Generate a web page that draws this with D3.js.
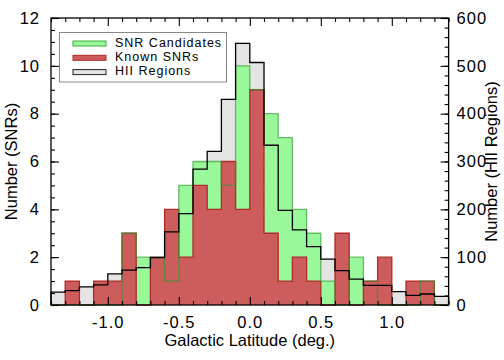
<!DOCTYPE html>
<html>
<head>
<meta charset="utf-8">
<script src="https://cdn.jsdelivr.net/npm/d3@7"></script>
<style>
  body { margin: 0; background: #fff; }
  text { font-family: "Liberation Sans", Arial, sans-serif; fill: #000; }
</style>
</head>
<body>
<script>
// left edge of each 0.1 deg latitude bin
var binLeft = [-1.4, -1.3, -1.2, -1.1, -1.0, -0.9, -0.8, -0.7, -0.6, -0.5,
               -0.4, -0.3, -0.2, -0.1, 0.0, 0.1, 0.2, 0.3, 0.4, 0.5,
               0.6, 0.7, 0.8, 0.9, 1.0, 1.1, 1.2, 1.3];
var binEnd = 1.4;

var candidates = [0, 0, 0, 0, 0, 3, 2, 2, 1, 5, 6, 6, 5, 10, 9, 8, 7, 4, 3, 1, 0, 2, 1, 0, 0, 0, 1, 0];
var known      = [0, 1, 0, 1, 1, 3, 0, 2, 4, 2, 5, 4, 6, 4, 9, 3, 1, 2, 1, 0, 3, 0, 1, 2, 0, 1, 1, 0];
var hii        = [27, 30, 38, 42, 65, 73, 78, 99, 153, 191, 284, 321, 430, 547, 507, 334,
                  198, 157, 122, 96, 72, 54, 41, 41, 28, 20, 23, 18];

var xMajor = [-1.0, -0.5, 0.0, 0.5, 1.0];
var yLeftTicks = [0, 2, 4, 6, 8, 10, 12];
var yRightTicks = [0, 100, 200, 300, 400, 500, 600];

var legendNames = ["SNR Candidates", "Known SNRs", "HII Regions"];

var width = 504, height = 360;
var plot = {left: 51, right: 448.6, top: 18, bottom: 305};

var svg = d3.select("body").append("svg")
            .attr("width", width)
            .attr("height", height);

var x = d3.scaleLinear().domain([-1.4, binEnd]).range([plot.left, plot.right]);
var yL = d3.scaleLinear().domain([0, 12]).range([plot.bottom, plot.top]);
var yR = d3.scaleLinear().domain([0, 600]).range([plot.bottom, plot.top]);

// turn a list of counts into step points (starting and ending on zero)
function steps(vals) {
  var pts = [{x: binLeft[0], v: 0}];
  vals.forEach(function(v, i) { pts.push({x: binLeft[i], v: v}); });
  pts.push({x: binEnd, v: vals[vals.length - 1]});
  pts.push({x: binEnd, v: 0});
  return pts;
}

function area(scale) {
  return d3.area().curve(d3.curveStepAfter)
           .x(function(d) { return x(d.x); })
           .y0(scale(0))
           .y1(function(d) { return scale(d.v); });
}
function line(scale) {
  return d3.line().curve(d3.curveStepAfter)
           .x(function(d) { return x(d.x); })
           .y(function(d) { return scale(d.v); });
}

var hiiPts = steps(hii), candPts = steps(candidates), knownPts = steps(known);

// fills
svg.append("path").attr("d", area(yR)(hiiPts)).style("fill", "#e4e4e4");
svg.append("path").attr("d", area(yL)(candPts)).style("fill", "#99f899");
svg.append("path").attr("d", area(yL)(knownPts)).style("fill", "#cd5c5c");

// outlines
svg.append("path").attr("d", line(yL)(knownPts))
   .style("fill", "none").style("stroke", "#b02a2a").style("stroke-width", 1.3);
svg.append("path").attr("d", line(yL)(candPts))
   .style("fill", "none").style("stroke", "#2f9a2f").style("stroke-width", 1.3)
   .style("stroke-opacity", 0.65);
svg.append("path").attr("d", line(yR)(hiiPts))
   .style("fill", "none").style("stroke", "#000").style("stroke-width", 1.3);

// frame
svg.append("rect")
   .attr("x", plot.left).attr("y", plot.top)
   .attr("width", plot.right - plot.left).attr("height", plot.bottom - plot.top)
   .style("fill", "none").style("stroke", "#000").style("stroke-width", 1.3);

// ticks (all pointing inward)
var xMinor = binLeft.concat([binEnd]).filter(function(d) {
  return xMajor.every(function(m) { return Math.abs(m - d) > 1e-6; });
});
var yLMinor = d3.range(0, 12.01, 0.5);
var yRMinor = d3.range(0, 600.1, 20);

function tickAxis(axis, translate) {
  var g = svg.append("g").attr("transform", translate).call(axis);
  g.select(".domain").remove();
  g.selectAll("line").style("stroke", "#000").style("stroke-width", 1.1);
  return g;
}

tickAxis(d3.axisBottom(x).tickValues(xMinor).tickSize(-4).tickFormat(""), "translate(0," + plot.bottom + ")");
tickAxis(d3.axisTop(x).tickValues(xMinor).tickSize(-4).tickFormat(""), "translate(0," + plot.top + ")");
tickAxis(d3.axisTop(x).tickValues(xMajor).tickSize(-8).tickFormat(""), "translate(0," + plot.top + ")");
tickAxis(d3.axisLeft(yL).tickValues(yLMinor).tickSize(-4).tickFormat(""), "translate(" + plot.left + ",0)");
tickAxis(d3.axisRight(yR).tickValues(yRMinor).tickSize(-4).tickFormat(""), "translate(" + plot.right + ",0)");

var xAxis = tickAxis(d3.axisBottom(x).tickValues(xMajor).tickSize(-8).tickPadding(11)
                       .tickFormat(function(d) { return d.toFixed(1); }),
                     "translate(0," + plot.bottom + ")");
var yAxisL = tickAxis(d3.axisLeft(yL).tickValues(yLeftTicks).tickSize(-8).tickPadding(11)
                        .tickFormat(d3.format("d")),
                      "translate(" + plot.left + ",0)");
var yAxisR = tickAxis(d3.axisRight(yR).tickValues(yRightTicks).tickSize(-8).tickPadding(8)
                        .tickFormat(d3.format("d")),
                      "translate(" + plot.right + ",0)");

[xAxis, yAxisL, yAxisR].forEach(function(g) {
  g.selectAll("text")
   .style("font-family", '"Liberation Sans", Arial, sans-serif')
   .style("font-size", "16.5px")
   .style("letter-spacing", "1px")
   .style("fill", "#000");
});

// axis titles
svg.append("text")
   .attr("x", (plot.left + plot.right) / 2)
   .attr("y", 346)
   .attr("text-anchor", "middle")
   .style("font-size", "16.5px")
   .text("Galactic Latitude (deg.)");

svg.append("text")
   .attr("transform", "translate(17," + (plot.top + plot.bottom) / 2 + ") rotate(-90)")
   .attr("text-anchor", "middle")
   .style("font-size", "16.5px")
   .text("Number (SNRs)");

svg.append("text")
   .attr("transform", "translate(497," + (plot.top + plot.bottom) / 2 + ") rotate(-90)")
   .attr("text-anchor", "middle")
   .style("font-size", "16.5px")
   .text("Number (HII Regions)");

// legend
var legendFill = ["#99f899", "#cd5c5c", "#e4e4e4"];
var legendStroke = ["#3fae3f", "#b02a2a", "#222"];

svg.append("rect")
   .attr("x", 59.5).attr("y", 32.5)
   .attr("width", 167).attr("height", 49.5)
   .style("fill", "#fff").style("stroke", "#888").style("stroke-width", 1);

var legend = svg.selectAll(".legend")
                .data(legendNames)
                .enter().append("g")
                .attr("class", "legend")
                .attr("transform", function(d, i) {
                  return "translate(0," + (i * 14.3) + ")";
                });

legend.append("rect")
      .attr("x", 73).attr("y", 41)
      .attr("width", 33).attr("height", 5)
      .style("fill", function(d, i) { return legendFill[i]; })
      .style("stroke", function(d, i) { return legendStroke[i]; })
      .style("stroke-width", 1);

legend.append("text")
      .attr("x", 115).attr("y", 46.5)
      .style("font-size", "12.5px")
      .style("letter-spacing", "1px")
      .text(function(d) { return d; });
</script>
</body>
</html>
